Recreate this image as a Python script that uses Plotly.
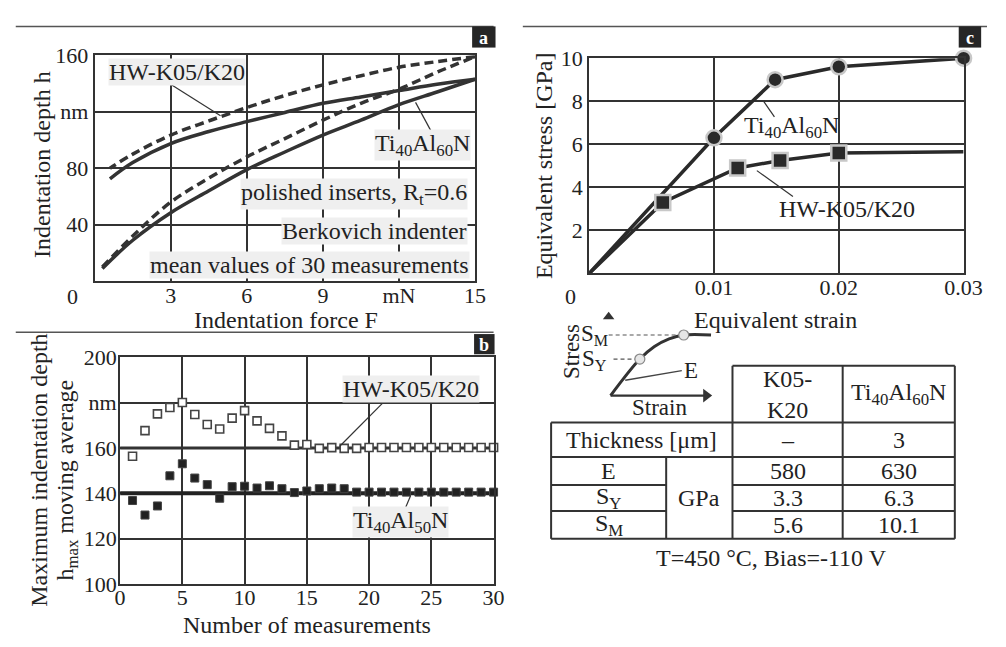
import plotly.graph_objects as go

W, H = 1006, 647
def px(x): return x / W
def py(y): return 1 - y / H

FONT = "Liberation Serif, Times New Roman, serif"
TXT = "#222222"
LN = "#333333"
FS = 24   # label / title size
TS = 22   # tick size

# ---------------- Panel a: indentation curves ----------------
a_hw_load_F = [0.3, 1.5, 3, 4.5, 6, 7.5, 9, 10.5, 12, 13.5, 15]
a_hw_load_h = [10, 32, 56, 73, 88, 101, 114, 126, 136, 148, 159]
a_hw_unl_F = [15, 13.5, 12, 10.5, 9, 7.5, 6, 4.5, 3, 1.5, 0.6]
a_hw_unl_h = [159, 155.5, 151.5, 145.5, 139, 131.5, 123, 113.5, 103.5, 90, 80]
a_ti_load_F = [0.3, 1.5, 3, 4.5, 6, 7.5, 9, 10.5, 12, 13.5, 15]
a_ti_load_h = [9, 29, 48.5, 64, 79, 91.5, 103.5, 114, 125, 134, 143]
a_ti_unl_F = [15, 13.5, 12, 10.5, 9, 7.5, 6, 4.5, 3, 1.5, 0.6]
a_ti_unl_h = [143, 139.5, 135, 130.5, 126, 119.5, 113, 106, 97.5, 84, 72.5]
a_xticks = [3, 6, 9, 12, 15]
a_xtext = ["3", "6", "9", "mN", "15"]
a_yticks = [40, 80, 120, 160]
a_ytext = ["40", "80", "nm", "160"]

# ---------------- Panel b: moving average ----------------
b_n = list(range(1, 31))
b_hw = [156.3, 167.6, 175, 177.8, 180, 174.7, 170.3, 168.3, 173.1, 176.4,
        171.9, 168.6, 165.3, 161.2, 161.5, 159.8, 160.1, 159.8, 159.8, 160.2,
        160.2, 160.2, 160.2, 160.2, 160.2, 160.2, 160.2, 160.2, 160.2, 160.2]
b_ti = [136.8, 130.4, 134.4, 147.7, 153, 146.7, 143.8, 137.8, 142.9, 143.1,
        142.3, 143.3, 142, 140.3, 141, 142, 142.3, 142, 140.5, 140.5,
        140.5, 140.5, 140.5, 140.5, 140.5, 140.5, 140.5, 140.5, 140.5, 140.5]
b_mean_n = [0, 30]
b_mean_hw = [160, 160]
b_mean_ti = [140, 140]
b_xticks = [0, 5, 10, 15, 20, 25, 30]
b_yticks = [100, 120, 140, 160, 180, 200]
b_ytext = ["100", "120", "140", "160", "nm", "200"]

# ---------------- Panel c: stress-strain ----------------
c_ti_strain = [0, 0.01, 0.0149, 0.02, 0.03]
c_ti_stress = [0, 6.3, 9.0, 9.6, 10.0]
c_hw_strain = [0, 0.0059, 0.0119, 0.0153, 0.02, 0.03]
c_hw_stress = [0, 3.3, 4.9, 5.25, 5.6, 5.65]
c_hw_marker = [False, True, True, True, True, False]
c_xticks = [0.01, 0.02, 0.03]
c_xtext = ["0.01", "0.02", "0.03"]
c_yticks = [2, 4, 6, 8, 10]

# ---------------- Inset sketch (schematic) ----------------
s_curve_x = [0, 30, 45, 60, 75, 103]
s_curve_y = [0, 38, 51, 59, 63, 63]
s_pts_x = [30, 75]
s_pts_y = [38, 63]
s_sm_x = [-2, 75]; s_sm_y = [63, 63]
s_sy_x = [3, 30]; s_sy_y = [38, 38]
s_e_x = [15, 73]; s_e_y = [16, 26]
s_ax_x = [0, 98]; s_ax_y = [0, 0]

# ---------------- Table ----------------
tbl_head = ["K05-<br>K20", "Ti<sub>40</sub>Al<sub>60</sub>N"]
tbl_thick = ["–", "3"]
tbl_props = ["E", "S<sub>Y</sub>", "S<sub>M</sub>"]
tbl_unit = "GPa"
tbl_k05 = ["580", "3.3", "5.6"]
tbl_tial = ["630", "6.3", "10.1"]

fig = go.Figure()

dash = "9px,5px"
fig.add_trace(go.Scatter(x=a_hw_load_F, y=a_hw_load_h, mode="lines", line=dict(color=LN, width=3.5, dash=dash, shape="spline"), xaxis="x", yaxis="y"))
fig.add_trace(go.Scatter(x=a_hw_unl_F, y=a_hw_unl_h, mode="lines", line=dict(color=LN, width=3.5, dash=dash, shape="spline"), xaxis="x", yaxis="y"))
fig.add_trace(go.Scatter(x=a_ti_load_F, y=a_ti_load_h, mode="lines", line=dict(color=LN, width=3.5, shape="spline"), xaxis="x", yaxis="y"))
fig.add_trace(go.Scatter(x=a_ti_unl_F, y=a_ti_unl_h, mode="lines", line=dict(color=LN, width=3.5, shape="spline"), xaxis="x", yaxis="y"))

fig.add_trace(go.Scatter(x=b_mean_n, y=b_mean_hw, mode="lines", line=dict(color=LN, width=3), xaxis="x2", yaxis="y2"))
fig.add_trace(go.Scatter(x=b_mean_n, y=b_mean_ti, mode="lines", line=dict(color="#222", width=4), xaxis="x2", yaxis="y2"))
fig.add_trace(go.Scatter(x=b_n, y=b_hw, mode="markers", cliponaxis=False, marker=dict(symbol="square", size=8, color="white", line=dict(color="#444", width=1.6)), xaxis="x2", yaxis="y2"))
fig.add_trace(go.Scatter(x=b_n, y=b_ti, mode="markers", cliponaxis=False, marker=dict(symbol="square", size=8, color="#222", line=dict(color="#444", width=1)), xaxis="x2", yaxis="y2"))

fig.add_trace(go.Scatter(x=c_ti_strain, y=c_ti_stress, mode="lines", line=dict(color="#2a2a2a", width=3.5), xaxis="x3", yaxis="y3"))
fig.add_trace(go.Scatter(x=c_hw_strain, y=c_hw_stress, mode="lines", line=dict(color="#2a2a2a", width=3.5), xaxis="x3", yaxis="y3"))
fig.add_trace(go.Scatter(x=c_ti_strain[1:], y=c_ti_stress[1:], mode="markers", cliponaxis=False, marker=dict(symbol="circle", size=15, color="#2a2a2a", line=dict(color="#c8c8c8", width=2.5)), xaxis="x3", yaxis="y3"))
fig.add_trace(go.Scatter(x=[s for s, m in zip(c_hw_strain, c_hw_marker) if m], y=[v for v, m in zip(c_hw_stress, c_hw_marker) if m], mode="markers", cliponaxis=False, marker=dict(symbol="square", size=15, color="#2a2a2a", line=dict(color="#c8c8c8", width=2.5)), xaxis="x3", yaxis="y3"))

# inset sketch
fig.add_trace(go.Scatter(x=s_curve_x, y=s_curve_y, mode="lines", line=dict(color=LN, width=3, shape="spline"), xaxis="x4", yaxis="y4"))
fig.add_trace(go.Scatter(x=s_sm_x, y=s_sm_y, mode="lines", line=dict(color="#555", width=1.2, dash="4px,3px"), xaxis="x4", yaxis="y4"))
fig.add_trace(go.Scatter(x=s_sy_x, y=s_sy_y, mode="lines", line=dict(color="#555", width=1.2, dash="4px,3px"), xaxis="x4", yaxis="y4"))
fig.add_trace(go.Scatter(x=s_e_x, y=s_e_y, mode="lines", line=dict(color="#444", width=1.4), xaxis="x4", yaxis="y4"))
fig.add_trace(go.Scatter(x=s_ax_x, y=s_ax_y, mode="lines", line=dict(color=LN, width=2.2), xaxis="x4", yaxis="y4"))
fig.add_trace(go.Scatter(x=[s_ax_x[1]], y=[0], mode="markers", cliponaxis=False, marker=dict(symbol="triangle-right", size=12, color=LN), xaxis="x4", yaxis="y4"))
fig.add_trace(go.Scatter(x=[-2], y=[82], mode="markers", cliponaxis=False, marker=dict(symbol="triangle-up", size=10, color=LN), xaxis="x4", yaxis="y4"))
fig.add_trace(go.Scatter(x=s_pts_x, y=s_pts_y, mode="markers", cliponaxis=False, marker=dict(symbol="circle", size=10, color="#e6e6e6", line=dict(color="#888", width=1.2)), xaxis="x4", yaxis="y4"))

tickfont = dict(family=FONT, size=TS, color=TXT)
common = dict(showline=True, mirror=True, linecolor=LN, linewidth=2, showgrid=True, gridcolor=LN, gridwidth=1.6, zeroline=False, ticks="", tickfont=tickfont, fixedrange=True)

fig.update_layout(
    width=W, height=H, margin=dict(l=0, r=0, t=0, b=0),
    paper_bgcolor="white", plot_bgcolor="white", showlegend=False,
    font=dict(family=FONT, size=FS, color=TXT),
    xaxis=dict(domain=[px(91), px(481)], range=[0, 15], tickvals=a_xticks, ticktext=a_xtext, anchor="y", ticklabelstandoff=-7, **common),
    yaxis=dict(domain=[py(280), py(45)], range=[0, 160], tickvals=a_yticks, ticktext=a_ytext, anchor="x", **common),
    xaxis2=dict(domain=[px(117), px(500)], range=[0, 30], tickvals=b_xticks, anchor="y2", ticklabelstandoff=-7, **common),
    yaxis2=dict(domain=[py(595), py(359)], range=[100, 200], tickvals=b_yticks, ticktext=b_ytext, anchor="x2", ticklabelstandoff=-3, **common),
    xaxis3=dict(domain=[px(598), px(982)], range=[0, 0.03], tickvals=c_xticks, ticktext=c_xtext, anchor="y3", ticklabelstandoff=-7, **common),
    yaxis3=dict(domain=[py(272), py(48)], range=[0, 10], tickvals=c_yticks, anchor="x3", **common),
    xaxis4=dict(domain=[px(600), px(730)], range=[-20, 110], visible=False, anchor="y4", fixedrange=True),
    yaxis4=dict(domain=[py(405), py(310)], range=[-6, 89], visible=False, anchor="x4", fixedrange=True),
)

shapes = []
anns = []
def line(x0, y0, x1, y1, w=1.2, c="#333"):
    shapes.append(dict(type="line", xref="paper", yref="paper", x0=px(x0), y0=py(y0), x1=px(x1), y1=py(y1), line=dict(color=c, width=w)))
def text(x, y, t, size=FS, xa="center", ya="middle", angle=0, bg=None, color=TXT):
    d = dict(x=px(x), y=py(y), xref="paper", yref="paper", text=t, showarrow=False, xanchor=xa, yanchor=ya, textangle=angle, font=dict(family=FONT, size=size, color=color), borderpad=0)
    if bg: d["bgcolor"] = bg
    anns.append(d)

# separators
line(10, 15, 500, 15, 1.5, "#555")
line(530, 15, 1006, 15, 1.5, "#555")
line(10, 333, 500, 333, 1.5, "#555")
# letter boxes
for (x0, y0, x1, y1, t) in [(478, 15, 502, 37, "a"), (480, 335, 501, 356, "b"), (977, 15, 1000, 37, "c")]:
    shapes.append(dict(type="rect", xref="paper", yref="paper", x0=px(x0), y0=py(y0), x1=px(x1), y1=py(y1), fillcolor="#262626", line=dict(width=0)))
    text((x0 + x1) / 2, (y0 + y1) / 2 + 1, "<b>" + t + "</b>", size=18, color="white")

# panel a texts
BG = "#efefef"
text(175, 62, "HW-K05/K20", bg=BG)
line(170, 76, 220, 108)
text(427, 138, "Ti<sub>40</sub>Al<sub>60</sub>N", bg=BG)
line(437, 126, 420, 94)
text(474, 189, "polished inserts, R<sub>t</sub>=0.6", xa="right", bg=BG)
text(474, 228, "Berkovich indenter", xa="right", bg=BG)
text(476, 263, "mean values of 30 measurements", xa="right", bg=BG)
text(37, 159, "Indentation depth h", angle=-90)
text(287, 320, "Indentation force F")
text(68, 296, "0", size=TS)

# panel b texts
text(415, 392, "HW-K05/K20", bg=BG)
line(388, 405, 342, 452)
text(405, 530, "Ti<sub>40</sub>Al<sub>50</sub>N", bg=BG)
line(415, 503, 410, 515)
text(33, 477, "Maximum indentation depth", angle=-90)
text(63, 487, "h<sub>max</sub> moving average", angle=-90)
text(309, 638, "Number of measurements")

# panel c texts
text(806, 120, "Ti<sub>40</sub>Al<sub>60</sub>N")
line(777, 93, 788, 109)
text(862, 205, "HW-K05/K20")
line(770, 165, 807, 192)
text(552, 160, "Equivalent stress [GPa]", angle=-90)
text(789, 320, "Equivalent strain")
text(579, 296, "0", size=TS)

# inset labels
text(580, 353, "Stress", angle=-90, size=23)
text(604, 336, "S<sub>M</sub>", size=23)
text(603, 362, "S<sub>Y</sub>", size=23)
text(702, 373, "E", size=23)
text(670, 411, "Strain", size=23)

# table grid
cx = [559, 677, 745, 858, 973]
ry = [368, 427, 463, 492, 519, 548]
TW = 2
line(cx[2], ry[0], cx[4], ry[0], TW)
line(cx[0], ry[1], cx[4], ry[1], TW)
line(cx[0], ry[2], cx[4], ry[2], TW)
line(cx[0], ry[5], cx[4], ry[5], TW)
for y in ry[3:5]:
    line(cx[0], y, cx[1], y, TW)
    line(cx[2], y, cx[4], y, TW)
line(cx[0], ry[1], cx[0], ry[5], TW)
line(cx[1], ry[2], cx[1], ry[5], TW)
line(cx[2], ry[0], cx[2], ry[5], TW)
line(cx[3], ry[0], cx[3], ry[5], TW)
line(cx[4], ry[0], cx[4], ry[5], TW)

mid3 = (cx[2] + cx[3]) / 2
mid4 = (cx[3] + cx[4]) / 2
text(mid3, (ry[0] + ry[1]) / 2, tbl_head[0])
text(mid4, (ry[0] + ry[1]) / 2, tbl_head[1])
text((cx[0] + cx[2]) / 2, (ry[1] + ry[2]) / 2, "Thickness [μm]")
text(mid3, (ry[1] + ry[2]) / 2, tbl_thick[0])
text(mid4, (ry[1] + ry[2]) / 2, tbl_thick[1])
for i in range(3):
    yc = (ry[2 + i] + ry[3 + i]) / 2
    text((cx[0] + cx[1]) / 2, yc, tbl_props[i])
    text(mid3, yc, tbl_k05[i])
    text(mid4, yc, tbl_tial[i])
text((cx[1] + cx[2]) / 2, (ry[2] + ry[5]) / 2, tbl_unit)
text(785, 568, "T=450 °C, Bias=-110 V")

fig.update_layout(shapes=shapes, annotations=anns)
fig.write_html("out.html")
